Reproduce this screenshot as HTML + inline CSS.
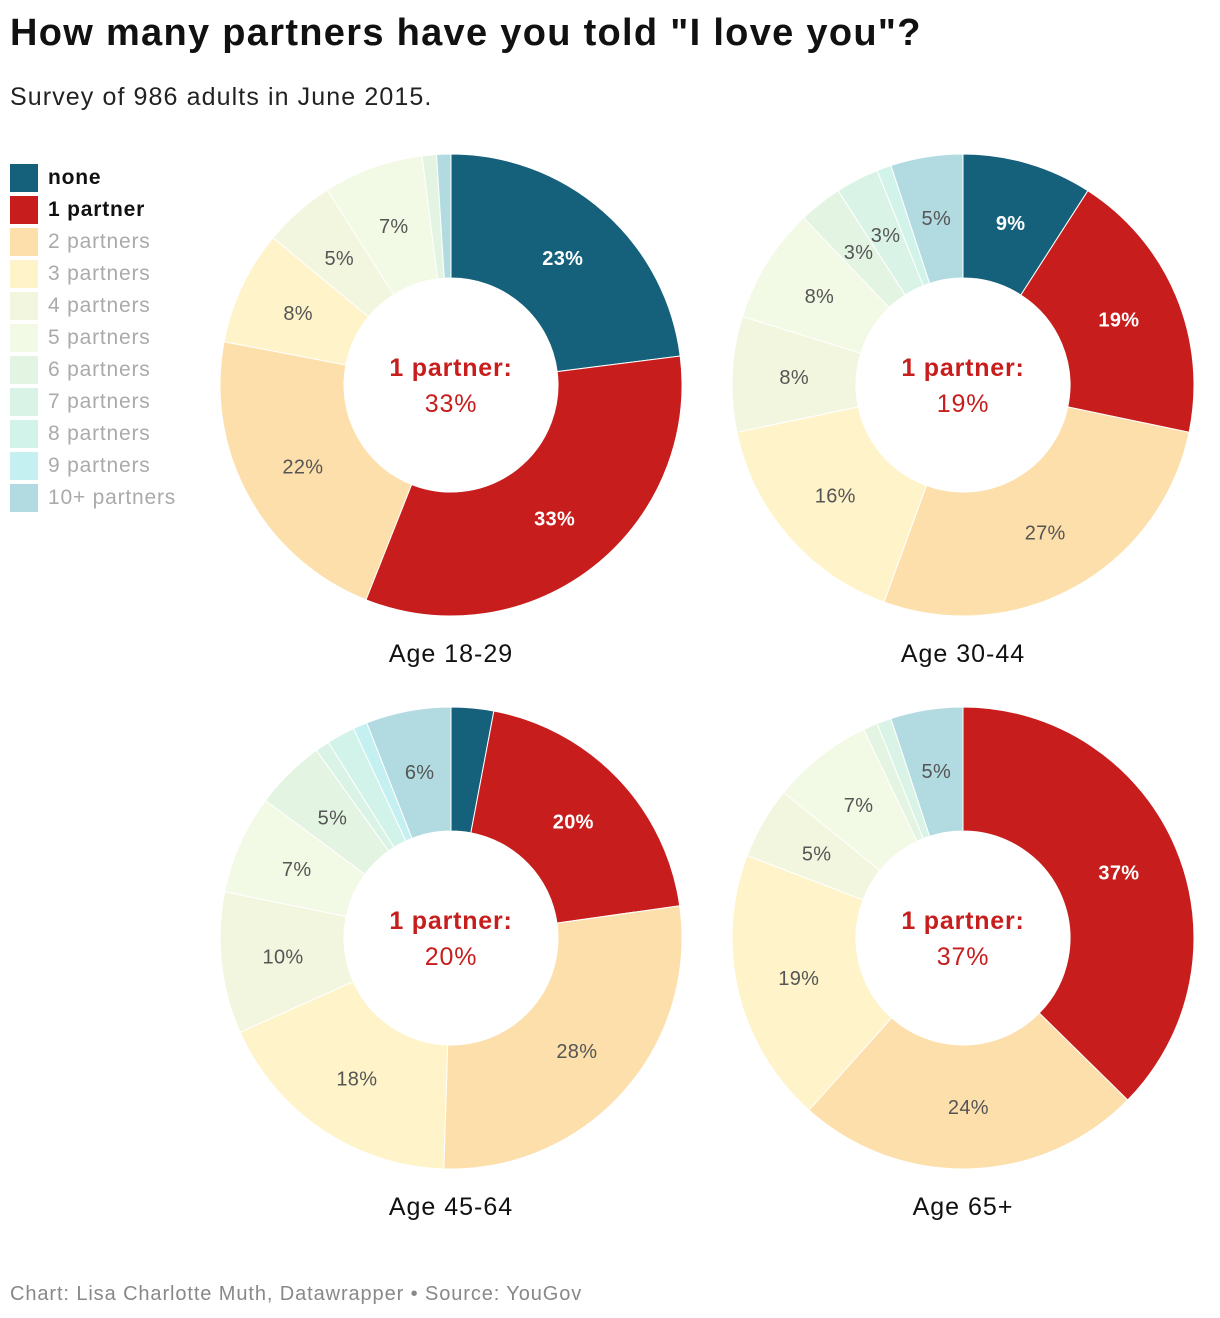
<!DOCTYPE html>
<html><head><meta charset="utf-8"><style>
body{margin:0;background:#fff;font-family:"Liberation Sans",sans-serif;}
#wrap{position:relative;width:1220px;height:1318px;overflow:hidden;}
.t{position:absolute;white-space:nowrap;}
</style></head><body><div id="wrap">
<div class="t" style="left:10px;top:12px;font-size:38px;letter-spacing:1.3px;font-weight:bold;color:#111;">How many partners have you told "I love you"?</div>
<div class="t" style="left:10px;top:83px;font-size:25px;letter-spacing:1.1px;color:#222;">Survey of 986 adults in June 2015.</div>
<div id="legend"></div>
<svg id="svg" width="1220" height="1318" style="position:absolute;left:0;top:0"></svg>
<div class="t" style="left:10px;top:1283px;font-size:20px;letter-spacing:0.9px;color:#888;">Chart: Lisa Charlotte Muth, Datawrapper • Source: YouGov</div>
</div>
<script>
const categories=["none","1 partner","2 partners","3 partners","4 partners","5 partners","6 partners","7 partners","8 partners","9 partners","10+ partners"];
const colors=["#15607a","#c71e1d","#fddfab","#fff3c9","#f3f6df","#f2f9e4","#e3f5e2","#d9f4e6","#d2f3e9","#c4f0f2","#b1dbe0"];
const groups=["Age 18-29","Age 30-44","Age 45-64","Age 65+"];
const values18=[23,33,22,8,5,7,1,0,0,0,1];
const values30=[9,19,27,16,8,8,3,3,1,0,5];
const values45=[3,20,28,18,10,7,5,1,2,1,6];
const values65=[0,37,24,19,5,7,1,1,0,0,5];
const allValues=[values18,values30,values45,values65];
const centers=[[451,385],[963,385],[451,938],[963,938]];
const R=231,r=107,NS="http://www.w3.org/2000/svg";
const svg=document.getElementById('svg');
const leg=document.getElementById('legend');
categories.forEach((c,i)=>{
 const d=document.createElement('div');d.className='t';
 
 
 d.style.cssText=`left:10px;top:${164+i*32}px;height:28px;font-size:21px;letter-spacing:0.8px;line-height:28px;color:${i<2?'#111':'#aaa'};font-weight:${i<2?'bold':'normal'}`;
 d.innerHTML=`<span style="display:inline-block;width:28px;height:28px;background:${colors[i]};vertical-align:top;margin-right:10px"></span>${c}`;
 leg.appendChild(d);
});
function pt(cx,cy,rad,a){return [cx+rad*Math.sin(a),cy-rad*Math.cos(a)];}
function txt(x,y,s,size,fill,bold,name,ls){
 const t=document.createElementNS(NS,'text');
 t.setAttribute('x',x);t.setAttribute('y',y);t.setAttribute('text-anchor','middle');
 t.setAttribute('font-size',size);t.setAttribute('fill',fill);
 if(bold)t.setAttribute('font-weight','bold');
 if(ls)t.setAttribute('letter-spacing',ls);
 
 
 t.textContent=s;svg.appendChild(t);return t;
}
allValues.forEach((vals,g)=>{
 const [cx,cy]=centers[g];const tot=vals.reduce((a,b)=>a+b,0);let a0=0;
 vals.forEach((v,i)=>{
  if(v<=0)return;const a1=a0+v/tot*2*Math.PI;
  const [x0,y0]=pt(cx,cy,R,a0),[x1,y1]=pt(cx,cy,R,a1),[x2,y2]=pt(cx,cy,r,a1),[x3,y3]=pt(cx,cy,r,a0);
  const lg=(a1-a0)>Math.PI?1:0;
  const p=document.createElementNS(NS,'path');
  p.setAttribute('d',`M${x0},${y0}A${R},${R} 0 ${lg} 1 ${x1},${y1}L${x2},${y2}A${r},${r} 0 ${lg} 0 ${x3},${y3}Z`);
  p.setAttribute('fill',colors[i]);p.setAttribute('stroke','#fff');p.setAttribute('stroke-width','1');
  
  
  svg.appendChild(p);
  if(v>=3 && !(i<2 && v<5)){const [lx,ly]=pt(cx,cy,169,(a0+a1)/2);
   txt(lx,ly+7,v+'%',20,i<2?'#fff':'#555',i<2,'slice-label','0.3');}
  a0=a1;
 });
 txt(cx,cy-9,'1 partner:',25,'#c71e1d',true,'center-label','0.8');
 txt(cx,cy+27,vals[1]+'%',25,'#c71e1d',false,'center-value','0.8');
 txt(cx,cy+277,groups[g],25,'#111',false,'group-label','1');
});
</script></body></html>
